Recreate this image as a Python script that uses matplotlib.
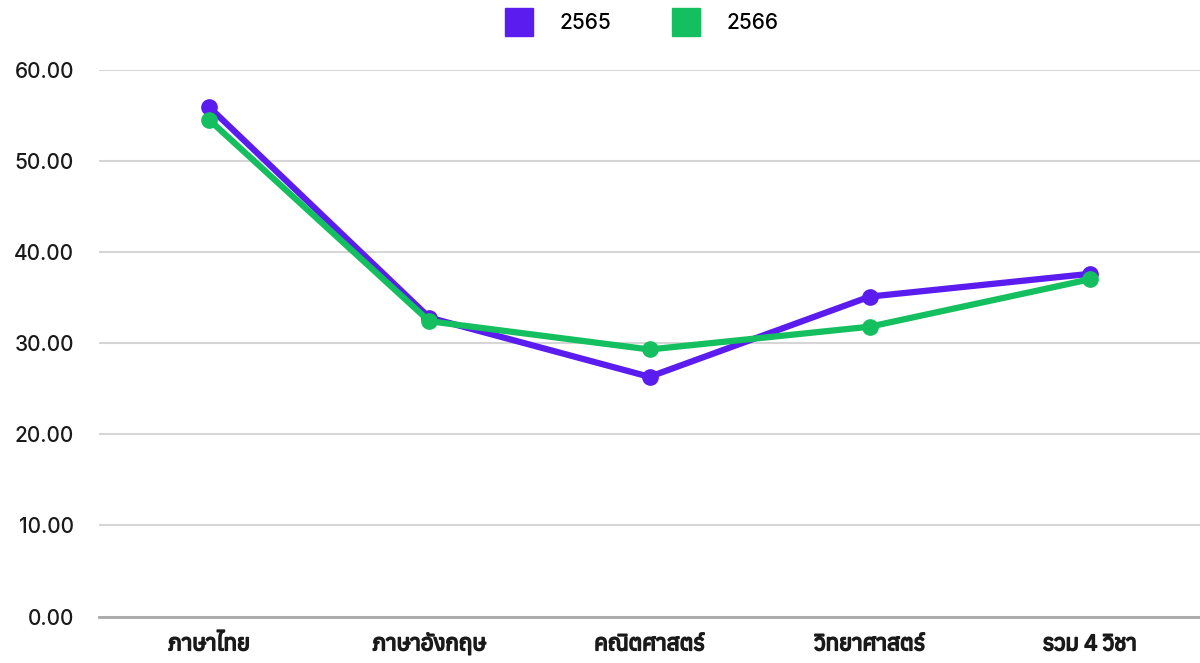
import matplotlib
matplotlib.use("Agg")
import matplotlib.pyplot as plt
import matplotlib.patheffects as pe
from matplotlib import font_manager
from matplotlib.ft2font import FT2Font
from matplotlib.lines import Line2D

subjects = ["ภาษาไทย", "ภาษาอังกฤษ", "คณิตศาสตร์", "วิทยาศาสตร์", "รวม 4 วิชา"]
score_2565 = [55.9, 32.8, 26.3, 35.1, 37.6]
score_2566 = [54.5, 32.4, 29.3, 31.8, 37.0]
years = ["2565", "2566"]
yticks = [0, 10, 20, 30, 40, 50, 60]

# find a family that can draw Thai
thai_fams = []
for f in font_manager.fontManager.ttflist:
    try:
        ft = FT2Font(f.fname)
        if ft.get_char_index(0x0E20):
            thai_fams.append(f.name)
    except Exception:
        pass
thai_fams = sorted(set(thai_fams))

plt.rcParams['font.family'] = thai_fams[:1] + ['DejaVu Sans']

purple = "#5B1CEF"
green = "#13BF5E"

fig = plt.figure(figsize=(12, 6.63), dpi=100)
ax = fig.add_axes([0.0825, 0.07, 0.9175, 0.825])
x = range(len(subjects))
ax.plot(x, score_2565, color=purple, lw=4.5, marker="o", ms=11, zorder=3)
ax.plot(x, score_2566, color=green, lw=4.5, marker="o", ms=11, zorder=4)

ax.set_xlim(-0.5, len(subjects) - 0.5)
ax.set_ylim(0, 60)
ax.set_yticks(yticks)
ax.set_yticklabels([f"{v:.2f}" for v in yticks], fontsize=15, family="Inter",
                   fontweight="medium", color="#1a1a1a")
ax.set_xticks(list(x))
ax.set_xticklabels(subjects, fontsize=16, color="#1a1a1a")
for t in ax.get_xticklabels():
    t.set_path_effects([pe.withStroke(linewidth=1.2, foreground="#1a1a1a")])
ax.grid(axis="y", color="#d6d6d6", lw=1.5)
ax.set_axisbelow(True)
for s in ["top", "right", "left"]:
    ax.spines[s].set_visible(False)
ax.spines["bottom"].set_color("#a8a8a8")
ax.spines["bottom"].set_linewidth(2)
ax.tick_params(length=0, pad=12)
ax.tick_params(axis="y", pad=18)

handles = [Line2D([], [], ls="", marker="s", ms=20, color=c) for c in (purple, green)]
fig.legend(handles, years, loc="upper center", bbox_to_anchor=(0.532, 1.008), ncol=2,
           frameon=False, handletextpad=0.95, columnspacing=2.6,
           prop={"family": "Inter", "size": 15, "weight": "medium"})

fig.savefig("out.png", dpi=100)
